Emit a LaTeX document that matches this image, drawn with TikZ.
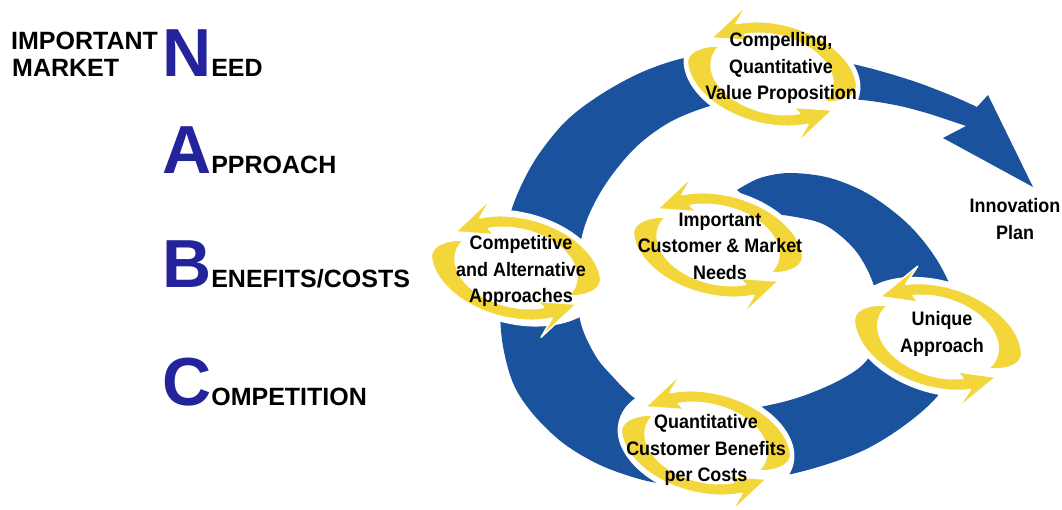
\documentclass[tikz,border=0pt]{standalone}
\usepackage{fontspec}
\setmainfont{Liberation Sans}
\newfontfamily\ringfont[FakeStretch=0.92]{Liberation Sans}

\definecolor{bandblue}{RGB}{26,82,158}
\definecolor{loopyellow}{RGB}{243,214,58}
\definecolor{nabcblue}{RGB}{35,35,155}

% inner and outer half axes of a yellow loop
\def\Ai{62}
\def\Bi{39}
\def\Ao{88}
\def\Bo{54}
\def\Da{26}
\def\Db{15}

% one tapered half of a loop, from angle #1 to the arrow head at #2
\newcommand{\halfloop}[2]{%
  \filldraw[fill=loopyellow,draw=white,line width=1.5pt,line join=round]
    plot[domain=#1:#2,samples=40] ({(\Ai+\Da*taper((\x-(#1))/(#2-(#1))))*cos(\x)},{(\Bi+\Db*taper((\x-(#1))/(#2-(#1))))*sin(\x)})
    -- ({(\Ao+13)*cos(#2-12)},{(\Bo+13)*sin(#2-12)})
    -- ({(\Ai+\Da/2)*cos(#2+28)},{(\Bi+\Db/2)*sin(#2+28)})
    -- ({(\Ai-7)*cos(#2-4)},{(\Bi-7)*sin(#2-4)})
    -- plot[domain=#2:#1,samples=40] ({\Ai*cos(\x)},{\Bi*sin(\x)})
    -- cycle;}

% a full loop: white ground and two arrows
\newcommand{\loopring}[2]{%
  \begin{scope}[shift={#1},rotate=#2]
    \fill[white] (0,0) ellipse [x radius=90pt,y radius=56pt];
    \halfloop{-22}{126}
    \halfloop{158}{306}
  \end{scope}}

\tikzset{
  declare function={taper(\u)=sin(min(90,400*\u))*(1-0.3*\u);},
  word/.style={font=\bfseries\fontsize{25}{29}\selectfont,inner sep=0pt,anchor=base west},
  nabc/.style={inner sep=0pt,anchor=base west},
  looptext/.style={font=\ringfont\bfseries\fontsize{19.5}{26.5}\selectfont,align=center,inner sep=0pt}
}

\newcommand{\nabcword}[2]{{\bfseries\color{nabcblue}\fontsize{68}{68}\selectfont #1}{\bfseries\fontsize{25}{29}\selectfont #2}}

\begin{document}
\begin{tikzpicture}[x=1pt,y=1pt]
\useasboundingbox (0,0) rectangle (1062,-510);

% letters on the left
\node[word] (important) at (11,-50) {IMPORTANT};
\node[word] (market) at (12,-77) {MARKET};
\node[nabc] (need) at (162,-77) {\nabcword{N}{EED}};
\node[nabc] (approach) at (162,-174) {\nabcword{A}{PPROACH}};
\node[nabc] (benefits) at (162,-288) {\nabcword{B}{ENEFITS/COSTS}};
\node[nabc] (competition) at (162,-405) {\nabcword{C}{OMPETITION}};

% the blue spiral
\fill[bandblue] plot[smooth,tension=0.55] coordinates {(737,-190) (760,-178) (790,-173) (830,-178) (870,-195) (910,-226) (940,-265) (958,-310) (957,-355) (940,-393) (905,-425) (860,-452) (800,-472) (740,-482) (680,-485) (643,-480) (600,-465) (563,-443) (533,-414) (513,-383) (502,-340) (500,-290) (504,-240) (515,-200) (535,-160) (565,-122) (600,-95) (640,-73) (680,-59) (730,-50) (790,-52) (857,-65) (910,-80) (950,-95) (977,-107)}
  -- (988,-95) -- (1033,-187) -- (943,-138) -- (966,-126)
  -- plot[smooth,tension=0.55] coordinates {(930,-114) (900,-106) (862,-100) (800,-96) (750,-98) (710,-106) (670,-122) (635,-148) (605,-185) (585,-225) (577,-270) (580,-320) (595,-355) (613,-377) (637,-400) (670,-415) (715,-413) (760,-407) (800,-397) (840,-380) (867,-360) (882,-325) (873,-283) (855,-250) (825,-225) (790,-216) (765,-214)}
  -- cycle;

% yellow loops
\loopring{(772,-74)}{-14}
\loopring{(516,-268)}{-14}
\loopring{(718,-245)}{-14}
\loopring{(938,-337)}{-18}
\loopring{(706,-443)}{-14}

% texts
\node[looptext] (valueprop) at (781,-68) {Compelling,\\Quantitative\\Value Proposition};
\node[looptext] (alternatives) at (521,-271) {Competitive\\and Alternative\\Approaches};
\node[looptext] (needs) at (720,-246) {Important\\Customer \& Market\\Needs};
\node[looptext] (unique) at (942,-334) {Unique\\Approach};
\node[looptext] (custbenefits) at (706,-450) {Quantitative\\Customer Benefits\\per Costs};
\node[looptext] (plan) at (1015,-219) {Innovation\\Plan};
\end{tikzpicture}
\end{document}
